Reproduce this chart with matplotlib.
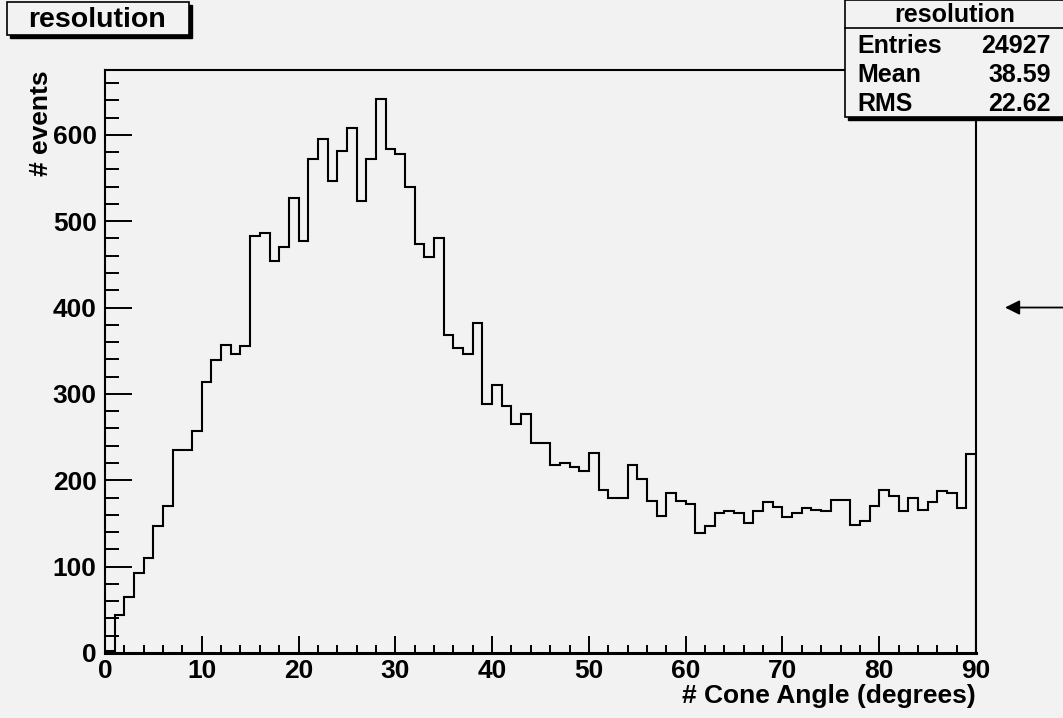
import numpy as np
import matplotlib
matplotlib.use("Agg")
import matplotlib.pyplot as plt
from matplotlib.patches import Rectangle

# Histogram of reconstructed cone angles, 1-degree bins from 0 to 90
bin_edges = list(range(0, 91))
counts = [
    2, 44, 65, 93, 110, 147, 170, 235, 235, 257,
    314, 339, 357, 346, 355, 483, 486, 454, 470, 527,
    477, 572, 595, 546, 581, 608, 523, 572, 642, 584,
    578, 539, 474, 458, 481, 368, 353, 346, 382, 288,
    310, 286, 265, 277, 243, 243, 218, 220, 215, 211,
    231, 189, 179, 179, 218, 202, 176, 159, 185, 176,
    173, 139, 147, 162, 164, 162, 150, 164, 175, 169,
    157, 162, 168, 166, 164, 177, 177, 148, 153, 170,
    189, 182, 164, 179, 166, 175, 187, 185, 168, 230,
]

hist_name = "resolution"
x_title = "# Cone Angle (degrees)"
y_title = "# events"
stat_labels = ["Entries", "Mean", "RMS"]
stat_values = ["24927", "38.59", "22.62"]
x_ticks = list(range(0, 91, 10))
y_ticks = list(range(0, 601, 100))
arrow_y = 400

W, H = 1063, 718
bg = "#f2f2f2"
plt.rcParams["font.family"] = ["Liberation Sans", "DejaVu Sans"]
plt.rcParams["font.weight"] = "bold"

fig = plt.figure(figsize=(W / 100, H / 100), dpi=100, facecolor=bg)

def fx(px):
    return px / W

def fy(py):
    return 1 - py / H

ax = fig.add_axes([fx(105), fy(653), fx(976) - fx(105), fy(70) - fy(653)])
ax.set_facecolor(bg)

ax.stairs(counts, bin_edges, baseline=0, color="black", linewidth=1.5, zorder=3)

ax.set_xlim(0, 90)
ax.set_ylim(0, 675)
ax.set_xticks(x_ticks)
ax.set_yticks(y_ticks)
ax.set_xticks(np.arange(0, 91, 2), minor=True)
ax.set_yticks(np.arange(0, 675, 20), minor=True)
ax.tick_params(axis="x", which="major", direction="in", length=12, width=1.4,
               labelsize=19, pad=4)
ax.tick_params(axis="x", which="minor", direction="in", length=6, width=1.4)
ax.tick_params(axis="y", which="major", direction="in", length=19.5, width=1.4,
               labelsize=19, pad=6)
ax.tick_params(axis="y", which="minor", direction="in", length=10, width=1.4)
for lab in ax.get_xticklabels() + ax.get_yticklabels():
    lab.set_fontweight("bold")

for side in ["left", "top", "right"]:
    ax.spines[side].set_linewidth(1.5)
ax.spines["bottom"].set_linewidth(2.2)

ax.set_xlabel(x_title, fontsize=19, fontweight="bold", loc="right", labelpad=1)
ax.set_ylabel(y_title, fontsize=19, fontweight="bold", loc="top", labelpad=0)

# Arrow pointing at the axis from the right margin
ax.annotate("", xy=(93.0, arrow_y), xytext=(99.5, arrow_y),
            xycoords="data", textcoords="data", annotation_clip=False,
            arrowprops=dict(arrowstyle="-|>", color="black", lw=1.3,
                            mutation_scale=22, shrinkA=0, shrinkB=0))

# Title box with drop shadow
def boxed(x0, y0, x1, y1, shadow=3):
    fig.patches.append(Rectangle((fx(x0 + shadow), fy(y1 + shadow)),
                                 fx(x1 - x0), fy(y0) - fy(y1),
                                 transform=fig.transFigure, facecolor="black",
                                 edgecolor="black", zorder=5))
    fig.patches.append(Rectangle((fx(x0), fy(y1)), fx(x1 - x0), fy(y0) - fy(y1),
                                 transform=fig.transFigure, facecolor=bg,
                                 edgecolor="black", linewidth=1.2, zorder=6))

boxed(7, 2, 189, 35)
fig.text(fx(97), fy(20), hist_name, fontsize=20.5, fontweight="bold",
         ha="center", va="center", zorder=7)

# Statistics box
boxed(845, 0, 1075, 117)
fig.lines.append(plt.Line2D([fx(845), fx(1063)], [fy(28), fy(28)],
                            transform=fig.transFigure, color="black", lw=1.2, zorder=7))
fig.text(fx(955), fy(15), hist_name, fontsize=18, fontweight="bold",
         ha="center", va="center", zorder=7)
for i, (lab, val) in enumerate(zip(stat_labels, stat_values)):
    yy = 46 + i * 29
    fig.text(fx(857), fy(yy), lab, fontsize=18, fontweight="bold",
             ha="left", va="center", zorder=7)
    fig.text(fx(1051), fy(yy), val, fontsize=18, fontweight="bold",
             ha="right", va="center", zorder=7)

fig.savefig("out.png", dpi=100, facecolor=bg)
